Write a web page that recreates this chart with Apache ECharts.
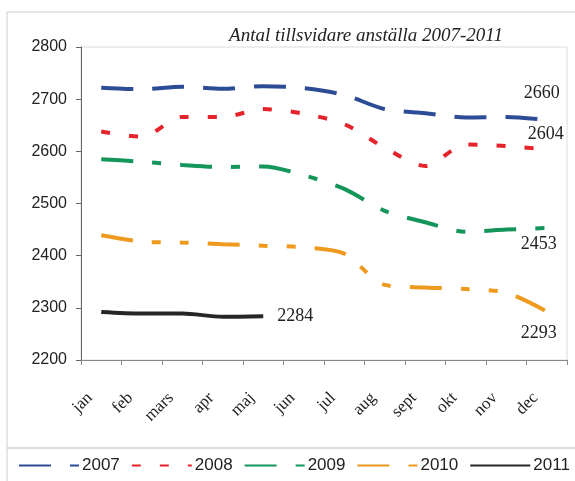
<!DOCTYPE html>
<html>
<head>
<meta charset="utf-8">
<script src="https://cdn.jsdelivr.net/npm/echarts@6/dist/echarts.min.js"></script>
<style>html,body{margin:0;padding:0;background:#fff;}#c{width:575px;height:481px;}</style>
</head>
<body>
<div id="c"></div>
<script>
const categories = ['jan','feb','mars','apr','maj','jun','jul','aug','sept','okt','nov','dec'];
const v2007 = [2722, 2719, 2724, 2720, 2725, 2721, 2708, 2681, 2673, 2665, 2666, 2660];
const v2008 = [2638, 2628, 2666, 2666, 2681, 2672, 2652, 2607, 2572, 2613, 2610, 2604];
const v2009 = [2585, 2580, 2574, 2570, 2571, 2554, 2528, 2486, 2464, 2446, 2450, 2453];
const v2010 = [2439, 2427, 2425, 2422, 2419, 2416, 2404, 2344, 2339, 2336, 2329, 2293];
const v2011 = [2292, 2289, 2289, 2283, 2284];
const seriesNames = ['2007','2008','2009','2010','2011'];
const yTicks = [2200, 2300, 2400, 2500, 2600, 2700, 2800];

const serif = '"Liberation Serif","DejaVu Serif",serif';
const sans = '"Liberation Sans","DejaVu Sans",sans-serif';

function mk(name, data, color, dash, endLabel) {
  return {
    name, type: 'line', data, symbol: 'none', smooth: 0.3,
    lineStyle: { color, width: 4, type: dash, cap: 'butt' },
    itemStyle: { color },
    endLabel: Object.assign({ show: true, formatter: '{c}', fontFamily: serif, fontSize: 18, color: '#222', lineHeight: 18 }, endLabel),
    z: 3
  };
}

const chart = echarts.init(document.getElementById('c'), null, { renderer: 'canvas' });
chart.setOption({
  animation: false,
  backgroundColor: '#fff',
  title: {
    text: 'Antal tillsvidare anställa 2007-2011',
    left: 361, top: 21, textAlign: 'center',
    textStyle: { fontFamily: serif, fontStyle: 'italic', fontWeight: 'normal', fontSize: 19, color: '#222' }
  },
  grid: { left: 81, right: 8, top: 47, bottom: 121, show: true, borderColor: '#dcdcdc', borderWidth: 1 },
  xAxis: {
    type: 'category', data: categories, boundaryGap: true,
    axisLine: { lineStyle: { color: '#888', width: 1 } },
    axisTick: { show: true, length: 5, lineStyle: { color: '#888' } },
    axisLabel: { rotate: 45, margin: 24, fontFamily: serif, fontSize: 17, color: '#222', padding: [0, 16, 0, 0] }
  },
  yAxis: {
    type: 'value', min: yTicks[0], max: yTicks[yTicks.length - 1], interval: 100,
    axisLine: { show: true, lineStyle: { color: '#666', width: 1 } },
    axisTick: { show: true, length: 5, lineStyle: { color: '#666' } },
    splitLine: { show: false },
    axisLabel: { margin: 14, fontFamily: sans, fontSize: 16, color: '#222', formatter: v => String(v) }
  },
  legend: {
    data: seriesNames, top: 457, left: 18, itemWidth: 60, itemHeight: 10, itemGap: 11, padding: 0,
    itemStyle: { opacity: 0 },
    textStyle: { fontFamily: sans, fontSize: 17, color: '#222', padding: [0, 0, 0, -2] }
  },
  graphic: [
    { type: 'line', shape: { x1: 7, y1: 12, x2: 575, y2: 12 }, style: { stroke: '#cfcfcf', lineWidth: 1 } },
    { type: 'line', shape: { x1: 7, y1: 12, x2: 7, y2: 481 }, style: { stroke: '#cfcfcf', lineWidth: 1 } },
    { type: 'line', shape: { x1: 7, y1: 448, x2: 575, y2: 448 }, style: { stroke: '#bdbdbd', lineWidth: 1 } }
  ],
  series: [
    mk('2007', v2007, '#2d4c96', [32, 19], { align: 'center', verticalAlign: 'bottom', distance: -5, padding: [0, 0, 18, 0] }),
    mk('2008', v2008, '#e5232b', [9, 19], { align: 'center', verticalAlign: 'bottom', distance: -1, padding: [0, 0, 6, 0] }),
    mk('2009', v2009, '#14955a', [32, 19, 9, 19], { align: 'center', verticalAlign: 'top', distance: -8, padding: [7, 0, 0, 0] }),
    mk('2010', v2010, '#ee9a1f', [32, 19, 9, 19, 9, 19], { align: 'center', verticalAlign: 'top', distance: -8, padding: [13, 0, 0, 0] }),
    mk('2011', v2011, '#262626', 'solid', { align: 'left', verticalAlign: 'middle', distance: 14 })
  ]
});
</script>
</body>
</html>
